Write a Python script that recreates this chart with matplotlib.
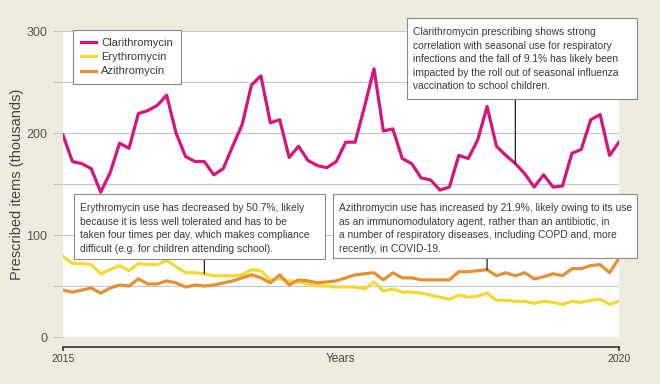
import matplotlib.pyplot as plt
from matplotlib.patches import Rectangle

# monthly prescribed items (thousands), Jan 2015 - Dec 2019
months = list(range(60))
clarithromycin = [198, 172, 170, 165, 142, 161, 190, 185, 219, 222, 227, 237,
                  200, 177, 172, 172, 159, 165, 187, 208, 247, 256, 210, 213,
                  176, 187, 173, 168, 166, 172, 191, 191, 226, 263, 202, 204,
                  175, 170, 156, 154, 144, 147, 178, 175, 193, 226, 187, 178,
                  170, 160, 147, 159, 147, 148, 180, 184, 213, 218, 178, 191]
erythromycin = [79, 72, 72, 71, 62, 66, 70, 65, 72, 71, 71, 75,
                69, 63, 63, 62, 60, 60, 60, 61, 66, 65, 56, 57,
                55, 54, 52, 50, 50, 49, 49, 49, 47, 54, 45, 47,
                44, 44, 43, 41, 39, 37, 41, 39, 40, 43, 36, 36,
                35, 35, 33, 35, 34, 32, 35, 34, 36, 37, 32, 35]
azithromycin = [46, 44, 46, 48, 43, 48, 51, 50, 57, 52, 52, 55,
                53, 49, 51, 50, 51, 53, 55, 58, 61, 58, 53, 61,
                51, 56, 55, 53, 54, 55, 58, 61, 62, 63, 56, 63,
                58, 58, 56, 56, 56, 56, 64, 64, 65, 66, 60, 63,
                60, 63, 57, 59, 62, 60, 67, 67, 70, 71, 63, 77]
series_names = ["Clarithromycin", "Erythromycin", "Azithromycin"]
year_labels = ["2015", "2020"]
y_ticks = [0, 50, 100, 150, 200, 250, 300]
y_tick_labels = ["0", "", "100", "", "200", "", "300"]

note_texts = [
    "Clarithromycin prescribing shows strong\n"
    "correlation with seasonal use for respiratory\n"
    "infections and the fall of 9.1% has likely been\n"
    "impacted by the roll out of seasonal influenza\n"
    "vaccination to school children.",
    "Erythromycin use has decreased by 50.7%, likely\n"
    "because it is less well tolerated and has to be\n"
    "taken four times per day, which makes compliance\n"
    "difficult (e.g. for children attending school).",
    "Azithromycin use has increased by 21.9%, likely owing to its use\n"
    "as an immunomodulatory agent, rather than an antibiotic, in\n"
    "a number of respiratory diseases, including COPD and, more\n"
    "recently, in COVID-19.",
]
note_months = [48, 15, 45]

bg = "#eeebdf"
grid_color = "#c6c6be"
text_color = "#3a3a3a"
colors = ["#d4157f", "#f4d835", "#e68f35"]
plt.rcParams["font.family"] = ["Liberation Sans", "DejaVu Sans"]

W, H = 660, 384


def fx(px):
    return px / W


def fy(py):
    return 1 - py / H


fig = plt.figure(figsize=(W / 100, H / 100), dpi=100, facecolor=bg)
ax = fig.add_axes([fx(63), fy(337), fx(619) - fx(63), fy(31) - fy(337)])
ax.set_facecolor("white")
ax.set_xlim(0, 59)
ax.set_ylim(0, 300)

for s in ["left", "top", "right"]:
    ax.spines[s].set_visible(False)
ax.spines["bottom"].set_position(("outward", 7))
ax.spines["bottom"].set_color("#333333")
ax.spines["bottom"].set_linewidth(1.2)

ax.set_yticks(y_ticks, y_tick_labels)
ax.tick_params(axis="y", length=7.5, width=0.8, color=grid_color, pad=4,
               labelsize=9, labelcolor="#555555")
ax.grid(axis="y", color=grid_color, lw=0.8)
ax.set_axisbelow(True)
ax.set_xticks([0, 59], year_labels)
ax.tick_params(axis="x", length=3, width=1.2, color="#333333", pad=2,
               labelsize=7.5, labelcolor="#444444")

all_series = [clarithromycin, erythromycin, azithromycin]
for vals, c, name in zip(all_series, colors, series_names):
    ax.plot(months, vals, color=c, lw=2.3, label=name, solid_joinstyle="round")

leg = ax.legend(loc="upper left", bbox_to_anchor=(fx(73), fy(30)),
                bbox_transform=fig.transFigure, borderaxespad=0, fontsize=8,
                handlelength=1.35, handletextpad=0.45, labelspacing=0.38,
                borderpad=0.72, fancybox=False, framealpha=1, labelcolor=text_color)
leg.get_frame().set_edgecolor("#888888")
leg.get_frame().set_linewidth(0.8)

fig.text(fx(17), fy(184), "Prescribed items (thousands)", rotation=90,
         ha="center", va="center", fontsize=10.5, color="#444444")
fig.text(fx(340), fy(359), "Years", ha="center", va="center",
         fontsize=8.5, color="#444444")

# annotation boxes (pixel extents: left, top, right, bottom)
boxes = [(407, 18, 637, 99), (74, 194, 325, 259), (333, 194, 637, 258)]
for text, (x0, y0, x1, y1), vals, m in zip(note_texts, boxes, all_series, note_months):
    fig.add_artist(Rectangle((fx(x0), fy(y1)), fx(x1) - fx(x0), fy(y0) - fy(y1),
                             transform=fig.transFigure, facecolor="white",
                             edgecolor="#8a8a8a", lw=0.8, zorder=5))
    fig.text(fx(x0 + 6), fy(y0 + 9), text, ha="left", va="top", fontsize=7.4,
             color=text_color, linespacing=1.45, zorder=6)
    ax.annotate("", xy=(m, vals[m]), xytext=(m, fy(y1)),
                textcoords=("data", "figure fraction"), annotation_clip=False,
                arrowprops=dict(arrowstyle="-", color="#222222", lw=0.9,
                                shrinkA=0, shrinkB=0))

plt.savefig("out.png", dpi=100, facecolor=bg)
